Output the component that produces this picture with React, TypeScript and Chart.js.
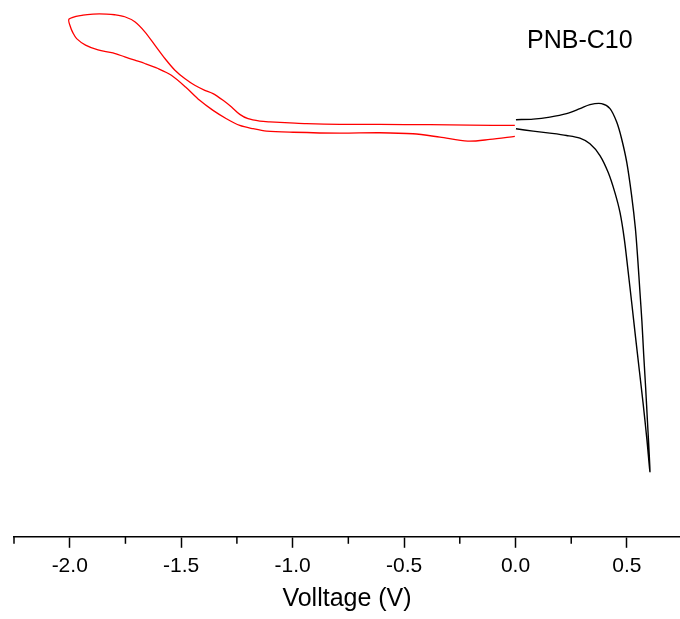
import { useEffect, useRef } from "react";
import { Chart, registerables } from "chart.js";

Chart.register(...registerables);

// Red loop (negative sweep): upper branch 0 -> -2.0 V, then lower branch -2.0 -> 0 V
const redVolt = [
  -0.003, -0.205, -0.384, -0.609, -0.788, -0.938, -1.012, -1.102, -1.147, -1.2,
  -1.237, -1.274, -1.312, -1.357, -1.394, -1.439, -1.484, -1.528, -1.573, -1.618,
  -1.663, -1.708, -1.753, -1.798, -1.835, -1.895, -1.94, -2.003,
  -1.997, -1.985, -1.969, -1.929, -1.873, -1.806, -1.753, -1.708, -1.663, -1.604,
  -1.544, -1.479, -1.417, -1.357, -1.297, -1.237, -1.177, -1.117, -0.998, -0.788,
  -0.609, -0.46, -0.339, -0.214, -0.115, -0.003,
];
const redCurrent = [
  0.0, 0.002, 0.007, 0.01, 0.01, 0.017, 0.025, 0.035, 0.043, 0.067,
  0.11, 0.183, 0.25, 0.317, 0.35, 0.4, 0.467, 0.55, 0.667, 0.8,
  0.933, 1.033, 1.083, 1.103, 1.11, 1.11, 1.1, 1.06,
  0.983, 0.92, 0.865, 0.8, 0.752, 0.723, 0.683, 0.65, 0.617, 0.567,
  0.5, 0.38, 0.25, 0.15, 0.067, 0.0, -0.033, -0.057, -0.068, -0.077,
  -0.073, -0.083, -0.117, -0.157, -0.14, -0.11,
];

// Black loop (positive sweep): upper branch 0 -> 0.6 V, then lower branch 0.6 -> 0 V
const blackVolt = [
  0.002, 0.079, 0.154, 0.229, 0.289, 0.334, 0.386, 0.424, 0.454, 0.476,
  0.499, 0.521, 0.538, 0.549, 0.558, 0.567, 0.575, 0.584, 0.592, 0.6, 0.603,
  0.589, 0.573, 0.556, 0.539, 0.522, 0.504, 0.488, 0.469, 0.446, 0.416,
  0.379, 0.334, 0.289, 0.229, 0.154, 0.079, 0.002,
];
const blackCurrent = [
  0.057, 0.063, 0.083, 0.117, 0.167, 0.207, 0.217, 0.167, 0.033, -0.133,
  -0.367, -0.7, -1.03, -1.35, -1.65, -1.95, -2.28, -2.62, -2.95, -3.28, -3.45,
  -3.12, -2.78, -2.45, -2.12, -1.78, -1.43, -1.13, -0.87, -0.67, -0.47,
  -0.3, -0.183, -0.127, -0.1, -0.077, -0.057, -0.033,
];

const majorTicks = [-2.0, -1.5, -1.0, -0.5, 0.0, 0.5];
const majorLabels = ["-2.0", "-1.5", "-1.0", "-0.5", "0.0", "0.5"];
const minorTicks = [-2.25, -1.75, -1.25, -0.75, -0.25, 0.25];

const sampleLabel = "PNB-C10";
const axisTitle = "Volltage (V)";

const FONT = "Arial, 'Liberation Sans', sans-serif";

const extrasPlugin = {
  id: "extras",
  afterDraw(chart: any) {
    const ctx = chart.ctx;
    const xs = chart.scales.x;
    ctx.save();
    ctx.strokeStyle = "#000";
    ctx.lineWidth = 1.5;
    const y0 = xs.top;
    minorTicks.forEach((v) => {
      const px = xs.getPixelForValue(v);
      ctx.beginPath();
      ctx.moveTo(px, y0);
      ctx.lineTo(px, y0 + 7);
      ctx.stroke();
    });
    ctx.fillStyle = "#000";
    ctx.font = `25px ${FONT}`;
    ctx.textBaseline = "alphabetic";
    ctx.textAlign = "left";
    ctx.fillText(sampleLabel, 527, 48);
    ctx.restore();
  },
};

export default function App() {
  const ref = useRef<HTMLCanvasElement | null>(null);

  useEffect(() => {
    if (!ref.current) return;
    const red = redVolt.map((v, i) => ({ x: v, y: redCurrent[i] }));
    const black = blackVolt.map((v, i) => ({ x: v, y: blackCurrent[i] }));
    const chart = new Chart(ref.current, {
      type: "scatter",
      data: {
        datasets: [
          {
            data: red,
            showLine: true,
            borderColor: "#ff0000",
            borderWidth: 1.3,
            pointRadius: 0,
            tension: 0.3,
          },
          {
            data: black,
            showLine: true,
            borderColor: "#000000",
            borderWidth: 1.4,
            pointRadius: 0,
            tension: 0.3,
          },
        ],
      },
      options: {
        animation: false,
        responsive: false,
        devicePixelRatio: 1,
        layout: { padding: { left: 14, right: 0, top: 0, bottom: 0 } },
        plugins: {
          legend: { display: false },
          tooltip: { enabled: false },
        },
        scales: {
          x: {
            type: "linear",
            min: -2.25,
            max: 0.738,
            afterBuildTicks: (scale: any) => {
              scale.ticks = majorTicks.map((v) => ({ value: v }));
            },
            grid: {
              drawOnChartArea: false,
              drawTicks: true,
              tickLength: 11,
              tickWidth: 1.5,
              tickColor: "#000",
            },
            border: { display: true, color: "#000", width: 1.5 },
            ticks: {
              color: "#000",
              padding: 5.5,
              maxRotation: 0,
              autoSkip: false,
              font: { family: FONT, size: 21 },
              callback: (val: any) => {
                const i = majorTicks.indexOf(Number(val));
                return i >= 0 ? majorLabels[i] : "";
              },
            },
            title: {
              display: true,
              text: axisTitle,
              color: "#000",
              font: { family: FONT, size: 25 },
              padding: { top: 0, bottom: 5 },
            },
          },
          y: {
            display: false,
            min: -4.1,
            max: 1.25,
          },
        },
      },
      plugins: [extrasPlugin],
    });
    return () => chart.destroy();
  }, []);

  return (
    <div style={{ position: "fixed", left: 0, top: 0, width: 680, height: 619, background: "#fff" }}>
      <canvas ref={ref} width={680} height={619} style={{ display: "block" }} />
    </div>
  );
}
